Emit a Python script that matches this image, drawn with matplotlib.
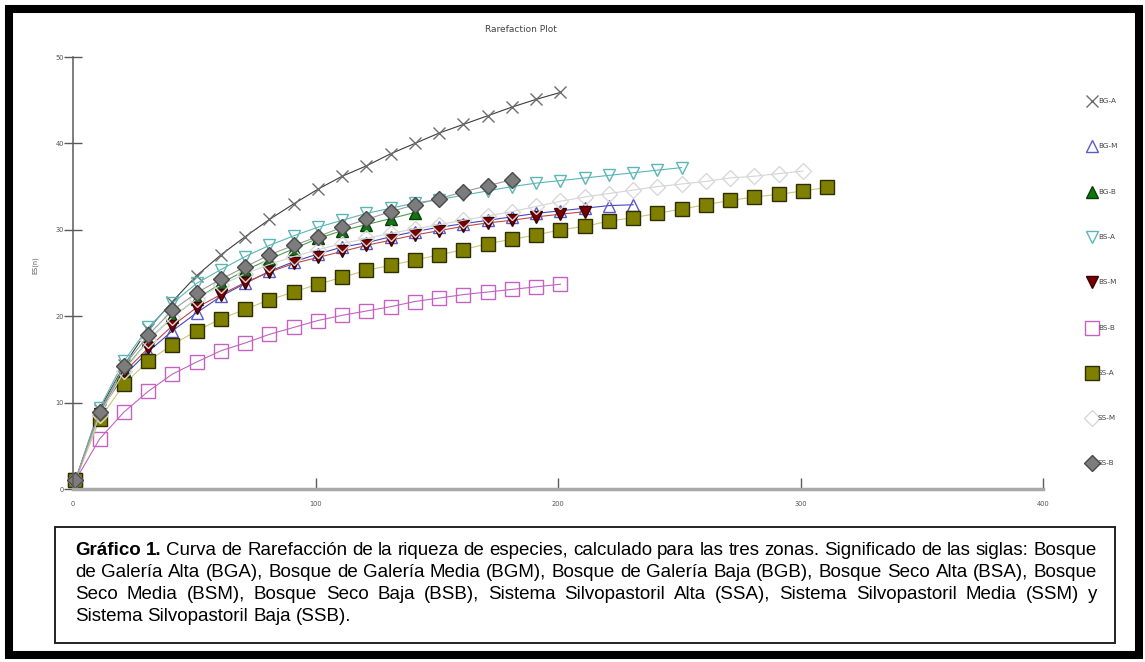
import matplotlib
matplotlib.use('Agg')
import matplotlib.pyplot as plt
from matplotlib.lines import Line2D
from matplotlib.patches import Rectangle

# ── data ──────────────────────────────────────────────────────────────────
N = [1, 11, 21, 31, 41, 51, 61, 71, 81, 91, 101, 111, 121, 131, 141, 151,
     161, 171, 181, 191, 201, 211, 221, 231, 241, 251, 261, 271, 281, 291,
     301, 311]

labels = ['BG-A', 'BG-M', 'BG-B', 'BS-A', 'BS-M', 'BS-B', 'SS-A', 'SS-M', 'SS-B']

bg_a = [1, 9.2, 14.3, 18.5, 21.7, 24.7, 27.1, 29.2, 31.2, 33.0, 34.7, 36.2,
        37.4, 38.8, 40.0, 41.2, 42.2, 43.2, 44.2, 45.1, 45.9]
bg_m = [1, 9.0, 13.1, 15.9, 18.3, 20.4, 22.3, 23.8, 25.2, 26.3, 27.2, 28.0,
        28.5, 29.2, 29.8, 30.3, 30.7, 31.1, 31.5, 31.9, 32.2, 32.5, 32.8, 32.9]
bg_b = [1, 8.8, 13.8, 17.2, 19.9, 22.0, 23.8, 25.3, 26.6, 27.8, 29.0, 29.9,
        30.6, 31.3, 32.0]
bs_a = [1, 9.4, 14.8, 18.7, 21.5, 23.8, 25.4, 26.9, 28.2, 29.3, 30.3, 31.1,
        31.9, 32.5, 33.1, 33.5, 34.0, 34.5, 35.0, 35.4, 35.7, 36.0, 36.3, 36.6,
        36.9, 37.2]
bs_m = [1, 8.7, 13.5, 16.3, 18.9, 21.0, 22.5, 23.9, 25.1, 26.1, 26.8, 27.5,
        28.2, 28.8, 29.4, 29.9, 30.4, 30.8, 31.1, 31.5, 31.8, 32.1]
bs_b = [1, 5.8, 8.9, 11.3, 13.3, 14.7, 16.0, 16.9, 17.9, 18.7, 19.5, 20.1,
        20.6, 21.1, 21.7, 22.1, 22.5, 22.8, 23.1, 23.4, 23.7]
ss_a = [1, 8.1, 12.1, 14.8, 16.7, 18.3, 19.7, 20.8, 21.9, 22.8, 23.7, 24.5,
        25.3, 25.9, 26.5, 27.1, 27.7, 28.4, 28.9, 29.4, 30.0, 30.4, 31.0, 31.4,
        31.9, 32.4, 32.9, 33.4, 33.8, 34.1, 34.5, 34.9]
ss_m = [1, 8.6, 13.6, 17.2, 19.9, 22.0, 23.6, 24.9, 26.0, 26.9, 27.7, 28.4,
        29.0, 29.6, 30.1, 30.6, 31.1, 31.6, 32.1, 32.7, 33.3, 33.8, 34.2, 34.6,
        35.0, 35.3, 35.6, 36.0, 36.2, 36.5, 36.8]
ss_b = [1, 8.9, 14.2, 17.8, 20.7, 22.7, 24.3, 25.7, 27.1, 28.2, 29.2, 30.3,
        31.2, 32.1, 32.9, 33.6, 34.4, 35.1, 35.8]

series = [bg_a, bg_m, bg_b, bs_a, bs_m, bs_b, ss_a, ss_m, ss_b]

x_ticks = [0, 100, 200, 300, 400]
y_ticks = [0, 10, 20, 30, 40, 50]

# estilo: (marker, size, face, edge, line colour)
styles = [
    ('x', 9,   'none',    '#6e6e6e', '#3c3c3c'),
    ('^', 9,   'none',    '#5a5ac8', '#4646c0'),
    ('^', 9,   '#0a7a0a', '#0c3a0c', '#4aa04a'),
    ('v', 9,   'none',    '#5cb6b6', '#5cb6b6'),
    ('v', 9,   '#7a0000', '#3a0000', '#c04848'),
    ('s', 10,  'none',    '#c462c4', '#c462c4'),
    ('s', 10.5, '#7f7f00', '#2e2e00', '#c8c878'),
    ('D', 8.5, 'none',    '#d8d8d8', '#d4d4d4'),
    ('D', 8.5, '#7c7c7c', '#4a4a4a', '#9a9a9a'),
]

caption = [
    [('Gráfico', True), ('1.', True)] + [(w, False) for w in
        'Curva de Rarefacción de la riqueza de especies, calculado para las tres zonas. Significado de las siglas: Bosque'.split()],
    [(w, False) for w in
        'de Galería Alta (BGA), Bosque de Galería Media (BGM), Bosque de Galería Baja (BGB), Bosque Seco Alta (BSA), Bosque'.split()],
    [(w, False) for w in
        'Seco Media (BSM), Bosque Seco Baja (BSB), Sistema Silvopastoril Alta (SSA), Sistema Silvopastoril Media (SSM) y'.split()],
    [(w, False) for w in 'Sistema Silvopastoril Baja (SSB).'.split()],
]

# ── figure ────────────────────────────────────────────────────────────────
W, H = 1145, 662
fig = plt.figure(figsize=(W / 100, H / 100), dpi=100)
fig.patch.set_facecolor('white')


def fx(px):
    return px / W


def fy(py):
    return 1 - py / H


ax = fig.add_axes([fx(73), fy(489), (1043 - 73) / W, (489 - 57) / H])

for vals, st in zip(series, styles):
    m, ms, fc, ec, lc = st
    ax.plot(N[:len(vals)], vals, color=lc, lw=0.8, marker=m, ms=ms,
            mfc=fc, mec=ec, mew=1.0, clip_on=False)

ax.set_xlim(0, 400)
ax.set_ylim(0, 50)
ax.set_xticks(x_ticks)
ax.set_yticks(y_ticks)
for s in ['top', 'right']:
    ax.spines[s].set_visible(False)
ax.spines['left'].set_color('#5a5a5a')
ax.spines['left'].set_linewidth(1.1)
ax.spines['bottom'].set_color('#a8a8a8')
ax.spines['bottom'].set_linewidth(2.5)
ax.tick_params(axis='y', direction='inout', length=13, width=1.0, color='#5a5a5a',
               labelsize=4.8, labelcolor='#555555', pad=0)
ax.tick_params(axis='x', direction='in', length=8, width=1.0, color='#5a5a5a',
               labelsize=4.8, labelcolor='#555555', pad=9)
ax.set_facecolor('white')

fig.text(fx(521), fy(30), 'Rarefaction Plot', fontsize=6.5, color='#444444',
         ha='center', va='center')
fig.text(fx(35), fy(265), 'ES(n)', fontsize=4.8, color='#555555', rotation=90,
         ha='center', va='center')

# leyenda a la derecha (solo marcadores)
for i, (lab, st) in enumerate(zip(labels, styles)):
    m, ms, fc, ec, lc = st
    yy = 101 + i * 45.3
    fig.add_artist(Line2D([fx(1092)], [fy(yy)], transform=fig.transFigure,
                          marker=m, ms=ms, mfc=fc, mec=ec, mew=1.0, ls='none'))
    fig.text(fx(1098), fy(yy), lab, fontsize=5.2, color='#444444',
             ha='left', va='center')

# marco negro grueso + recuadro del pie
fig.add_artist(Rectangle((fx(9), fy(655)), fx(1139) - fx(9), fy(9) - fy(655),
                         transform=fig.transFigure, fill=False,
                         edgecolor='black', linewidth=5.8))
fig.add_artist(Rectangle((fx(55), fy(643)), fx(1115) - fx(55), fy(527) - fy(643),
                         transform=fig.transFigure, fill=False,
                         edgecolor='#222222', linewidth=1.4))

# pie de figura justificado palabra por palabra
CAP_FONT = ['Liberation Sans Narrow', 'Liberation Sans', 'DejaVu Sans']
CAP_FS = 13.5
TXT_L, TXT_R = 75, 1097
baselines = [555, 577, 599, 621]
renderer = fig.canvas.get_renderer()
space_w = CAP_FS * 100 / 72 * 0.26

for li, (tokens, base) in enumerate(zip(caption, baselines)):
    texts = []
    for word, bold in tokens:
        t = fig.text(0, fy(base), word, fontsize=CAP_FS, family=CAP_FONT,
                     fontweight='bold' if bold else 'normal', color='black',
                     va='baseline', ha='left')
        texts.append(t)
    widths = [t.get_window_extent(renderer).width for t in texts]
    if li < len(caption) - 1:
        gap = (TXT_R - TXT_L - sum(widths)) / (len(texts) - 1)
    else:
        gap = space_w
    x = TXT_L
    for t, w in zip(texts, widths):
        t.set_x(fx(x))
        x += w + gap

fig.savefig('out.png', dpi=100, facecolor='white')
